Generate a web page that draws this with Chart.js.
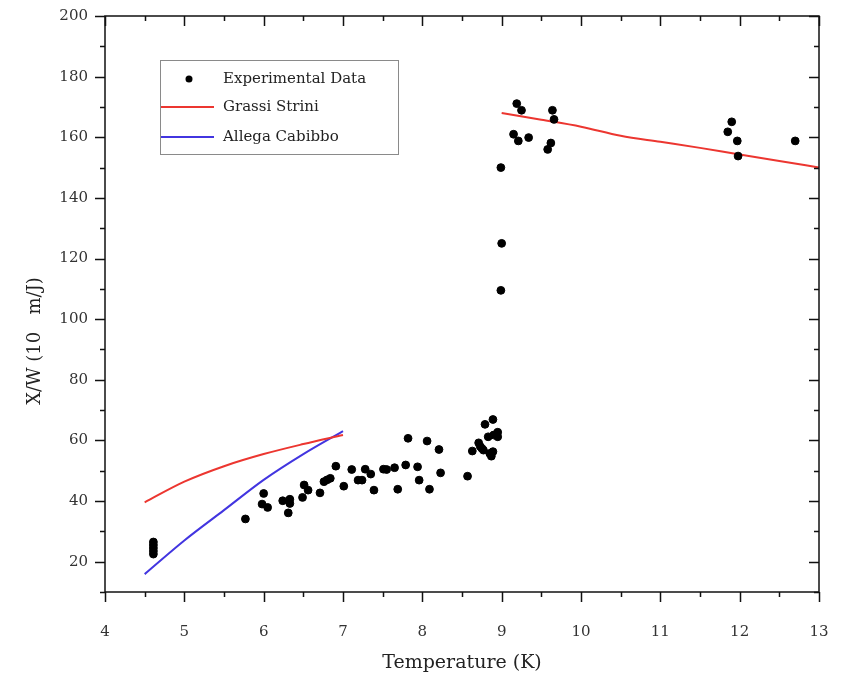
<!DOCTYPE html>
<html>
<head>
<meta charset="utf-8">
<script src="https://cdn.jsdelivr.net/npm/chart.js@4.4.0/dist/chart.umd.min.js"></script>
<style>
  body { margin: 0; background: #fff; }
  #wrap { width: 841px; height: 677px; }
</style>
</head>
<body>
<div id="wrap"><canvas id="xwChart" width="841" height="677"></canvas></div>
<script>
// Datos experimentales (temperatura en K, X/W)
const expTemp = [4.61, 4.61, 4.61, 4.61, 4.61, 5.77, 6.0, 5.98, 6.05, 6.24, 6.33, 6.33, 6.31,
  6.49, 6.51, 6.56, 6.71, 6.76, 6.8, 6.84, 6.91, 7.01, 7.11, 7.19, 7.24, 7.28, 7.35, 7.39,
  7.51, 7.55, 7.65, 7.69, 7.79, 7.82, 7.94, 7.96, 8.06, 8.09, 8.21, 8.23, 8.57, 8.63, 8.71,
  8.73, 8.75, 8.77, 8.85, 8.87, 8.89, 8.79, 8.89, 8.83, 8.9, 8.95, 8.95, 8.99, 9.0, 8.99,
  9.19, 9.25, 9.15, 9.21, 9.34, 9.64, 9.66, 9.62, 9.58, 11.9, 11.85, 11.97, 11.98, 12.7];
const expXW = [22.5, 23.5, 24.5, 25.5, 26.5, 34.1, 42.5, 39.0, 37.9, 40.1, 40.6, 39.2, 36.1,
  41.2, 45.3, 43.6, 42.7, 46.4, 47.0, 47.5, 51.5, 44.9, 50.4, 46.9, 46.9, 50.5, 48.9, 43.6,
  50.5, 50.4, 51.0, 43.9, 51.9, 60.7, 51.3, 46.9, 59.8, 43.9, 57.0, 49.3, 48.2, 56.5, 59.2,
  58.0, 57.4, 56.8, 55.7, 54.8, 56.3, 65.3, 66.9, 61.2, 61.8, 62.7, 61.2, 150, 125, 109.5,
  171.1, 168.9, 161.0, 158.8, 159.9, 168.9, 165.9, 158.1, 156.0, 165.1, 161.8, 158.8, 153.8, 158.8];

// Curva Grassi Strini (dos tramos, separados por un hueco)
const grassiTemp = [4.5, 5.0, 5.5, 6.0, 6.5, 7.0, 8.0, 9.0, 9.5, 10.0, 10.5, 11.0, 11.5, 12.0, 12.5, 13.0];
const grassiXW = [39.6, 46.4, 51.5, 55.5, 58.8, 61.8, null, 168, 165.8, 163.5, 160.5, 158.5, 156.5, 154.3, 152.2, 150];

// Curva Allega Cabibbo
const allegaTemp = [4.5, 5.0, 5.5, 6.0, 6.5, 7.0];
const allegaXW = [15.9, 27.0, 37.0, 47.0, 55.5, 63.1];

// Ejes
const xMin = 4, xMax = 13;
const yMin = 10, yMax = 200;
const xMajorTicks = [4, 5, 6, 7, 8, 9, 10, 11, 12, 13];
const yMajorTicks = [20, 40, 60, 80, 100, 120, 140, 160, 180, 200];
const yTitle = 'X/W (10   m/J)';

const serif = '"DejaVu Serif", "Liberation Serif", serif';
const redColor = '#ec3630';
const blueColor = '#4235e0';

const toPoints = (xs, ys) => xs.map((x, i) => ({ x: x, y: ys[i] }));

// Marco, marcas mayores/menores, titulo Y y leyenda dentro del area
const frameAndLegend = {
  id: 'frameAndLegend',
  afterDraw(chart) {
    const ctx = chart.ctx;
    const a = chart.chartArea;
    const xs = chart.scales.x;
    const ys = chart.scales.y;
    ctx.save();
    ctx.strokeStyle = '#111';
    ctx.lineWidth = 1.5;
    ctx.strokeRect(a.left, a.top, a.right - a.left, a.bottom - a.top);

    const major = 10, minor = 5;
    ctx.beginPath();
    for (let v = xMin; v <= xMax + 1e-9; v += 0.5) {
      const len = Number.isInteger(v) ? major : minor;
      const px = Math.round(xs.getPixelForValue(v)) + 0.5;
      ctx.moveTo(px, a.bottom); ctx.lineTo(px, a.bottom + len);
      ctx.moveTo(px, a.top); ctx.lineTo(px, a.top + len);
    }
    for (let v = yMin; v <= yMax + 1e-9; v += 10) {
      const len = (v % 20 === 0) ? major : minor;
      const py = Math.round(ys.getPixelForValue(v)) + 0.5;
      ctx.moveTo(a.left, py); ctx.lineTo(a.left - len, py);
      ctx.moveTo(a.right, py); ctx.lineTo(a.right - len, py);
    }
    ctx.stroke();

    // Titulo del eje Y (desplazado hacia abajo como en el original)
    ctx.save();
    ctx.translate(35, 341);
    ctx.rotate(-Math.PI / 2);
    ctx.font = '18px ' + serif;
    ctx.fillStyle = '#222';
    ctx.textAlign = 'center';
    ctx.textBaseline = 'middle';
    ctx.fillText(yTitle, 0, 0);
    ctx.restore();

    // Leyenda
    const box = { left: 160, top: 60, width: 238, height: 94 };
    ctx.lineWidth = 1;
    ctx.strokeStyle = '#8a8a8a';
    ctx.fillStyle = '#fff';
    ctx.fillRect(box.left, box.top, box.width, box.height);
    ctx.strokeRect(box.left + 0.5, box.top + 0.5, box.width, box.height);

    const ds = chart.data.datasets;
    const rows = [79, 107, 137];
    ctx.font = '15px ' + serif;
    ctx.textBaseline = 'middle';
    ctx.textAlign = 'left';
    ds.forEach((d, i) => {
      const y = rows[i];
      if (d.showLine) {
        ctx.strokeStyle = d.borderColor;
        ctx.lineWidth = 2;
        ctx.beginPath();
        ctx.moveTo(161, y); ctx.lineTo(214, y);
        ctx.stroke();
      } else {
        ctx.fillStyle = '#000';
        ctx.beginPath();
        ctx.arc(189, y, 3.5, 0, Math.PI * 2);
        ctx.fill();
      }
      ctx.fillStyle = '#222';
      ctx.fillText(d.label, 223, y);
    });
    ctx.restore();
  }
};

new Chart(document.getElementById('xwChart'), {
  type: 'scatter',
  data: {
    datasets: [
      {
        label: 'Experimental Data',
        data: toPoints(expTemp, expXW),
        backgroundColor: '#000',
        borderColor: '#000',
        pointRadius: 3.9,
        pointHoverRadius: 3.9,
        showLine: false
      },
      {
        label: 'Grassi Strini',
        data: toPoints(grassiTemp, grassiXW),
        borderColor: redColor,
        borderWidth: 2,
        pointRadius: 0,
        showLine: true,
        spanGaps: false,
        tension: 0.4,
        cubicInterpolationMode: 'monotone'
      },
      {
        label: 'Allega Cabibbo',
        data: toPoints(allegaTemp, allegaXW),
        borderColor: blueColor,
        borderWidth: 2,
        pointRadius: 0,
        showLine: true,
        tension: 0.4,
        cubicInterpolationMode: 'monotone'
      }
    ]
  },
  options: {
    responsive: false,
    animation: false,
    devicePixelRatio: 1,
    layout: { padding: { left: 0, right: 22, top: 16, bottom: 0 } },
    plugins: {
      legend: { display: false },
      tooltip: { enabled: false }
    },
    scales: {
      x: {
        type: 'linear',
        min: xMin,
        max: xMax,
        afterFit: scale => {
          scale.height = 85;
          scale.paddingLeft = 0;
          scale.paddingRight = 0;
        },
        afterBuildTicks: scale => { scale.ticks = xMajorTicks.map(v => ({ value: v })); },
        grid: { display: false, drawTicks: false },
        border: { display: false },
        ticks: {
          padding: 31,
          color: '#333',
          font: { family: serif, size: 15 }
        },
        title: {
          display: true,
          text: 'Temperature (K)',
          color: '#222',
          font: { family: serif, size: 19 },
          padding: { top: 0, bottom: 3 }
        }
      },
      y: {
        type: 'linear',
        min: yMin,
        max: yMax,
        afterFit: scale => {
          scale.width = 105;
          scale.paddingTop = 0;
          scale.paddingBottom = 0;
        },
        afterBuildTicks: scale => { scale.ticks = yMajorTicks.map(v => ({ value: v })); },
        grid: { display: false, drawTicks: false },
        border: { display: false },
        ticks: {
          padding: 17,
          color: '#333',
          font: { family: serif, size: 15 }
        },
        title: { display: false }
      }
    }
  },
  plugins: [frameAndLegend]
});
</script>
</body>
</html>
